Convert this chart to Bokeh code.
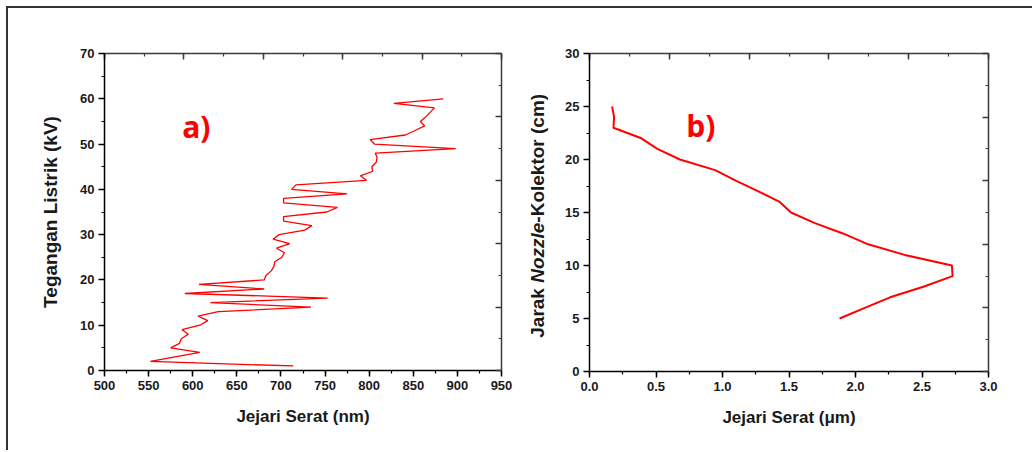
import math
from bokeh.plotting import figure
from bokeh.models import Range1d, LinearAxis, SingleIntervalTicker, Label, NumeralTickFormatter
from bokeh.layouts import row
from bokeh.embed import file_html
from bokeh.resources import INLINE

# ---------------- data ----------------
# (a) Tegangan Listrik (kV) vs Jejari Serat (nm)
voltage_kv = list(range(1, 61))
radius_nm = [714, 552, 580, 608, 575, 585, 587, 595, 588, 608,
             617, 606, 629, 734, 620, 753, 591, 681, 607, 681,
             683, 689, 692, 693, 701, 704, 695, 710, 691, 698,
             727, 735, 703, 703, 752, 764, 703, 703, 775, 712,
             717, 797, 790, 804, 803, 808, 809, 807, 898, 806,
             801, 841, 852, 863, 858, 864, 869, 874, 828, 884]

# (b) Jarak Nozzle-Kolektor (cm) vs Jejari Serat (um)
distance_cm = [25, 24, 23, 22, 21, 20, 19, 18, 17, 16, 15, 14, 13, 12, 11, 10, 9, 8, 7, 6, 5]
radius_um = [0.17, 0.185, 0.18, 0.39, 0.51, 0.68, 0.945, 1.10, 1.27, 1.43, 1.515,
             1.695, 1.91, 2.095, 2.37, 2.725, 2.73, 2.51, 2.26, 2.07, 1.88]

FONT = "Liberation Sans"
RED = "#ff0000"
CONTENT_H = 442


def base_fig(xr, yr, fw, fh, mbl, mbr):
    p = figure(frame_width=fw, frame_height=fh, x_range=xr, y_range=yr,
               output_backend="svg", toolbar_location=None,
               min_border_left=mbl, min_border_right=mbr,
               min_border_top=45, min_border_bottom=CONTENT_H - 45 - fh)
    p.outline_line_color = None
    p.xgrid.visible = False
    p.ygrid.visible = False
    p.background_fill_color = "white"
    p.border_fill_color = "white"
    return p


def style_main(ax, label_size, standoff):
    ax.axis_line_color = "black"
    ax.axis_line_width = 1.5
    ax.major_tick_line_color = "black"
    ax.minor_tick_line_color = "black"
    ax.major_tick_line_width = 1.5
    ax.minor_tick_line_width = 1.2
    ax.major_tick_out = 6
    ax.major_tick_in = 0
    ax.minor_tick_out = 3
    ax.minor_tick_in = 0
    ax.major_label_text_font = FONT
    ax.major_label_text_font_style = "bold"
    ax.major_label_text_font_size = "13px"
    ax.major_label_text_color = "#1a1a1a"
    ax.major_label_standoff = 4
    ax.axis_label_text_font = FONT
    ax.axis_label_text_font_style = "bold"
    ax.axis_label_text_font_size = label_size
    ax.axis_label_text_color = "#1a1a1a"
    ax.axis_label_standoff = standoff


def mirror_axes(p):
    p.extra_x_ranges = {"top": Range1d(0, 10)}
    p.extra_y_ranges = {"right": Range1d(0, 10)}
    for rng, loc in (("top", "above"), ("right", "right")):
        if loc == "above":
            ax = LinearAxis(x_range_name=rng)
        else:
            ax = LinearAxis(y_range_name=rng)
        ax.ticker = SingleIntervalTicker(interval=2, num_minor_ticks=2)
        ax.axis_line_color = "#3a3a3a"
        ax.axis_line_width = 1.5
        ax.major_tick_line_color = "#3a3a3a"
        ax.minor_tick_line_color = "#3a3a3a"
        ax.major_tick_line_width = 1.5
        ax.minor_tick_line_width = 1.2
        ax.major_tick_in = 6
        ax.major_tick_out = 0
        ax.minor_tick_in = 3
        ax.minor_tick_out = 0
        ax.major_label_text_font_size = "0px"
        ax.major_label_text_color = None
        ax.major_label_standoff = 0
        p.add_layout(ax, loc)


# ---------------- panel a ----------------
p1 = base_fig(Range1d(500, 950), Range1d(0, 70), 397, 317, 96, 18)
p1.xaxis.ticker = SingleIntervalTicker(interval=50, num_minor_ticks=2)
p1.yaxis.ticker = SingleIntervalTicker(interval=10, num_minor_ticks=2)
p1.xaxis.axis_label = "Jejari Serat (nm)"
p1.yaxis.axis_label = "Tegangan Listrik (kV)"
style_main(p1.xaxis[0], "17px", 14)
style_main(p1.yaxis[0], "19px", 16)
mirror_axes(p1)
p1.line(radius_nm, voltage_kv, line_color=RED, line_width=1.3)
p1.add_layout(Label(x=588, y=53.9, text="a)", text_font="Open Sans", text_font_style="bold",
                    text_font_size="30px", text_color=RED, text_baseline="middle",
                    text_align="left"))

# ---------------- y-axis title strip for panel b (italic "Nozzle") ----------------
STRIP_W = 30
lab = figure(frame_width=STRIP_W, frame_height=CONTENT_H, x_range=Range1d(0, STRIP_W),
             y_range=Range1d(0, CONTENT_H), x_axis_type=None, y_axis_type=None,
             output_backend="svg", toolbar_location=None, min_border=0,
             min_border_left=0, min_border_right=0, min_border_top=0, min_border_bottom=0)
lab.outline_line_color = None
lab.xgrid.visible = False
lab.ygrid.visible = False
lab.background_fill_color = "white"
lab.border_fill_color = "white"

WIDTHS = {"J": .556, "a": .556, "r": .389, "k": .556, " ": .278, "N": .722, "o": .611,
          "z": .5, "l": .278, "e": .556, "-": .333, "K": .722, "t": .333, "(": .333,
          "c": .556, "m": .889, ")": .333}
pieces = [("Jarak ", "bold"), ("Nozzle", "bold italic"), ("-Kolektor (cm)", "bold")]
fs = 19
total_px = sum(WIDTHS[c] for s, _ in pieces for c in s) * fs
center_from_bottom = CONTENT_H - 205.3 + 43
x_screen = 17.7
start = center_from_bottom - total_px / 2
for s, style in pieces:
    lab.add_layout(Label(x=x_screen, y=start, text=s, angle=math.pi / 2, text_font=FONT,
                         text_font_style=style, text_font_size=f"{fs}px", text_color="#1a1a1a",
                         text_align="left", text_baseline="middle"))
    start += sum(WIDTHS[c] for c in s) * fs

# ---------------- panel b ----------------
p2 = base_fig(Range1d(0, 3), Range1d(0, 30), 399, 318, 70 - STRIP_W, 44)
p2.xaxis.ticker = SingleIntervalTicker(interval=0.5, num_minor_ticks=2)
p2.yaxis.ticker = SingleIntervalTicker(interval=5, num_minor_ticks=2)
p2.xaxis.formatter = NumeralTickFormatter(format="0.0")
p2.xaxis.axis_label = "Jejari Serat (\u03bcm)"
style_main(p2.xaxis[0], "17px", 14)
style_main(p2.yaxis[0], "19px", 16)
mirror_axes(p2)
p2.line(radius_um, distance_cm, line_color=RED, line_width=2)
p2.add_layout(Label(x=0.727, y=23.25, text="b)", text_font="Open Sans", text_font_style="bold",
                    text_font_size="30px", text_color=RED, text_baseline="middle",
                    text_align="left"))

layout = row(p1, lab, p2, styles={"border-top": "2px solid #333", "border-left": "2px solid #333",
                                  "margin-left": "6px", "margin-top": "6px"})

open("out.html", "w").write(file_html(layout, INLINE))
